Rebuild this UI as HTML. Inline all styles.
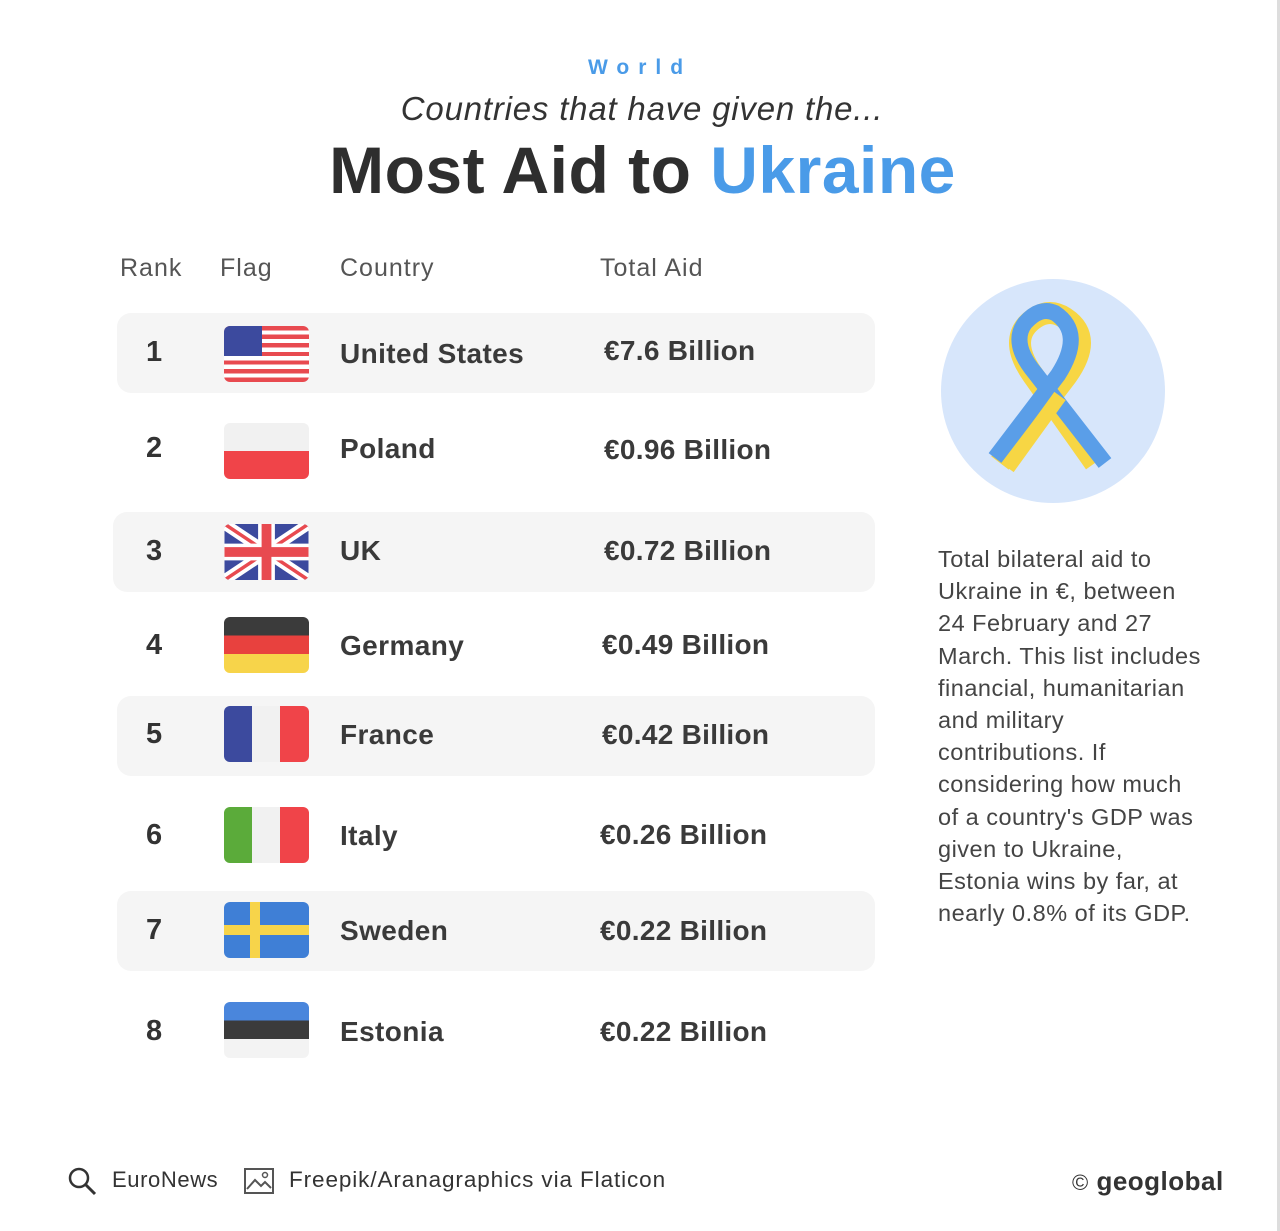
<!DOCTYPE html>
<html><head><meta charset="utf-8"><style>
*{margin:0;padding:0;box-sizing:border-box}
body{width:1280px;height:1231px;background:#fff;position:relative;overflow:hidden;font-family:"Liberation Sans",sans-serif;color:#333}
.a{position:absolute;white-space:nowrap}
.row{position:absolute;left:117px;width:758px;height:80px;background:#f5f5f5;border-radius:14px}
.rk{position:absolute;left:146px;font-weight:bold;font-size:29px;color:#333}
.ct{position:absolute;left:340px;font-size:28px;font-weight:bold;color:#3a3a3a;letter-spacing:0.4px}
.am{position:absolute;left:602px;font-size:28px;font-weight:bold;color:#3a3a3a;letter-spacing:0.3px}
.fl{position:absolute;left:224px;width:85px;height:56px;border-radius:6px;overflow:hidden}
.hd{position:absolute;top:254px;font-size:25px;color:#555;letter-spacing:1px}
</style></head><body>
<div class="a" style="left:0;width:1280px;text-align:center;top:56px;color:#4a9be8;font-weight:bold;font-size:21px;letter-spacing:9px">World</div>
<div class="a" style="left:0;width:1284px;text-align:center;top:90px;font-style:italic;font-size:33px;color:#333;letter-spacing:0.8px">Countries that have given the...</div>
<div class="a" style="left:0;width:1285px;text-align:center;top:132px;font-weight:bold;font-size:66px;color:#2e2e2e;letter-spacing:0.5px">Most Aid to <span style="color:#4a9be8">Ukraine</span></div>
<div class="hd" style="left:120px">Rank</div>
<div class="hd" style="left:220px">Flag</div>
<div class="hd" style="left:340px">Country</div>
<div class="hd" style="left:600px">Total Aid</div>
<div class="row" style="top:313px"></div>
<div class="row" style="top:512px;left:113px;width:762px"></div>
<div class="row" style="top:696px"></div>
<div class="row" style="top:891px"></div>

<div class="rk" style="top:336px">1</div>
<div class="rk" style="top:432px">2</div>
<div class="rk" style="top:535px">3</div>
<div class="rk" style="top:629px">4</div>
<div class="rk" style="top:718px">5</div>
<div class="rk" style="top:819px">6</div>
<div class="rk" style="top:914px">7</div>
<div class="rk" style="top:1015px">8</div>

<div class="ct" style="top:338px">United States</div>
<div class="ct" style="top:433px">Poland</div>
<div class="ct" style="top:535px">UK</div>
<div class="ct" style="top:630px">Germany</div>
<div class="ct" style="top:719px">France</div>
<div class="ct" style="top:820px">Italy</div>
<div class="ct" style="top:915px">Sweden</div>
<div class="ct" style="top:1016px">Estonia</div>

<div class="am" style="top:335px;left:604px">€7.6 Billion</div>
<div class="am" style="top:434px;left:604px">€0.96 Billion</div>
<div class="am" style="top:535px;left:604px">€0.72 Billion</div>
<div class="am" style="top:629px">€0.49 Billion</div>
<div class="am" style="top:719px">€0.42 Billion</div>
<div class="am" style="top:819px;left:600px">€0.26 Billion</div>
<div class="am" style="top:915px;left:600px">€0.22 Billion</div>
<div class="am" style="top:1016px;left:600px">€0.22 Billion</div>

<div class="fl" style="top:326px;background:repeating-linear-gradient(#e84a50 0 4.3px,#fff 4.3px 8.6px)"><div style="position:absolute;left:0;top:0;width:38px;height:30px;background:#3c4a9e"></div></div>
<div class="fl" style="top:423px;background:linear-gradient(#f1f1f1 50%,#f04449 50%)"></div>
<div class="fl" style="top:524px">
<svg width="85" height="56" viewBox="0 0 60 40"><rect width="60" height="40" fill="#3c4a9e"/><path d="M0 0L60 40M60 0L0 40" stroke="#fff" stroke-width="8"/><path d="M0 0L60 40M60 0L0 40" stroke="#e84a50" stroke-width="2.5"/><path d="M30 0V40M0 20H60" stroke="#fff" stroke-width="12"/><path d="M30 0V40M0 20H60" stroke="#e84a50" stroke-width="7"/></svg></div>
<div class="fl" style="top:617px;background:linear-gradient(#3b3b3b 33%,#e8413e 33% 66%,#f7d44a 66%)"></div>
<div class="fl" style="top:706px;background:linear-gradient(90deg,#3c4a9e 33%,#f1f1f1 33% 66%,#f04449 66%)"></div>
<div class="fl" style="top:807px;background:linear-gradient(90deg,#5bab3a 33%,#f1f1f1 33% 66%,#f04449 66%)"></div>
<div class="fl" style="top:902px;background:#3f7fd6"><div style="position:absolute;left:26px;top:0;width:10px;height:56px;background:#f7d44a"></div><div style="position:absolute;left:0;top:23px;width:85px;height:10px;background:#f7d44a"></div></div>
<div class="fl" style="top:1002px;background:linear-gradient(#4a86dc 33%,#3b3b3b 33% 66%,#f3f3f3 66%)"></div>

<svg class="a" style="left:940px;top:278px" width="226" height="226" viewBox="0 0 226 226">
<circle cx="113" cy="113" r="112" fill="#d7e6fb"/>
<path d="M60 185 L125 100 Q155 60 125 40 Q110 30 95 40 Q65 60 95 100 L155 185" fill="none" stroke="#f7d644" stroke-width="22"/>
<path d="M55 180 L118 97 Q145 55 115 35 Q100 28 85 45 Q70 65 95 95 L165 185" fill="none" stroke="#5a9ee8" stroke-width="16"/>
<path d="M68 190 L120 118" stroke="#f7d644" stroke-width="14"/>
</svg>

<div class="a" style="left:938px;top:543px;font-size:23.5px;line-height:32.2px;color:#444;white-space:normal;width:320px;letter-spacing:0.5px">Total bilateral aid to<br>Ukraine in €, between<br>24 February and 27<br>March. This list includes<br>financial, humanitarian<br>and military<br>contributions. If<br>considering how much<br>of a country's GDP was<br>given to Ukraine,<br>Estonia wins by far, at<br>nearly 0.8% of its GDP.</div>

<svg class="a" style="left:67px;top:1166px" width="30" height="30"><circle cx="12" cy="12" r="9" fill="none" stroke="#333" stroke-width="2.5"/><path d="M19 19L28 28" stroke="#333" stroke-width="3"/></svg>
<div class="a" style="left:112px;top:1167px;font-size:22px;color:#333;letter-spacing:0.6px">EuroNews</div>
<svg class="a" style="left:243px;top:1167px" width="32" height="28"><rect x="2" y="2" width="28" height="24" fill="none" stroke="#555" stroke-width="2"/><path d="M4 22L12 13L18 19L22 15L28 21" fill="none" stroke="#555" stroke-width="2"/><circle cx="22" cy="8" r="2.5" fill="none" stroke="#555" stroke-width="1.5"/></svg>
<div class="a" style="left:289px;top:1167px;font-size:22.5px;color:#333;letter-spacing:0.9px">Freepik/Aranagraphics via Flaticon</div>
<div class="a" style="left:1072px;top:1166px;font-size:26px;font-weight:bold;color:#333;letter-spacing:0.5px"><span style="font-weight:normal;font-size:22px">©</span> geoglobal</div>
<div class="a" style="left:1277px;top:0;width:3px;height:1231px;background:#ddd"></div>
</body></html>
